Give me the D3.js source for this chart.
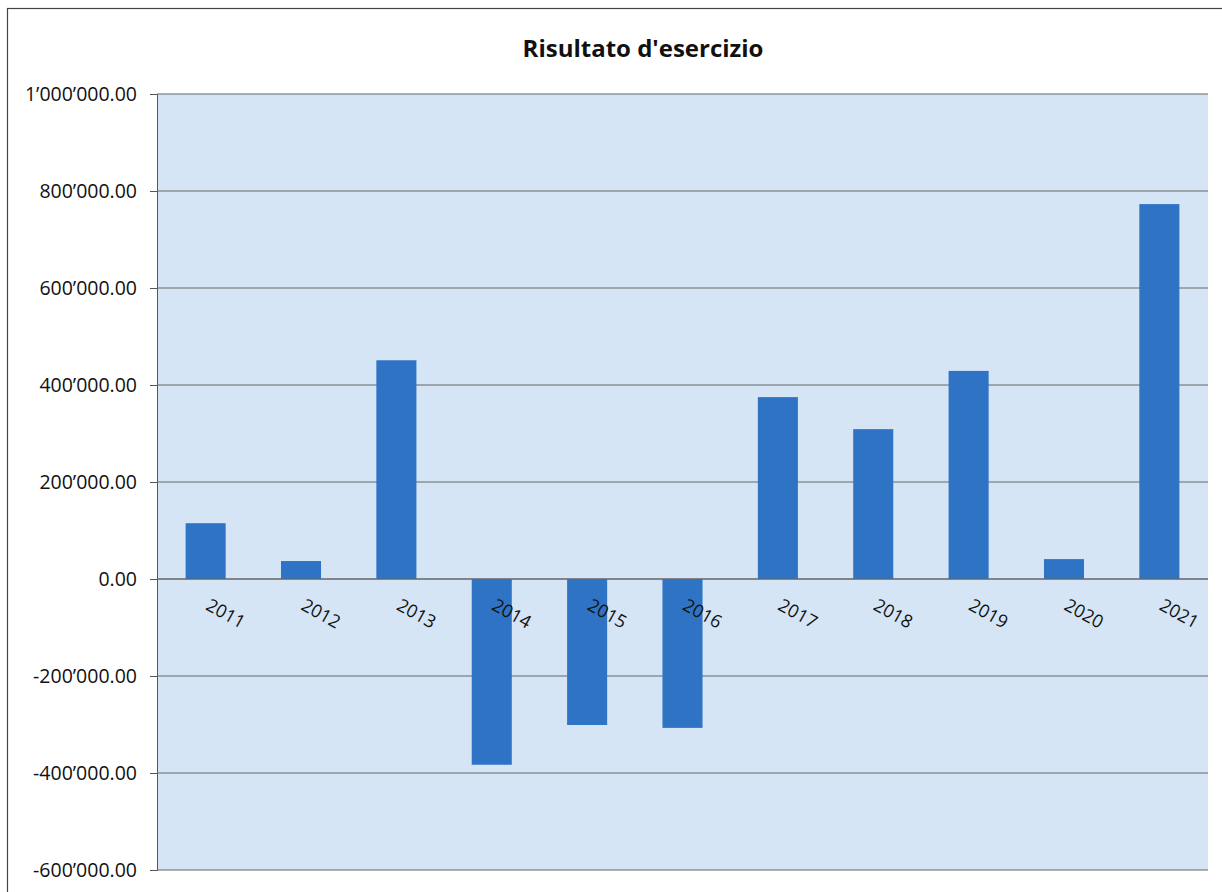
<!DOCTYPE html>
<html>
<head>
<meta charset="utf-8">
<style>
body { margin: 0; background: #fff; }
text { font-family: "Open Sans", sans-serif; fill: #111; }
</style>
<script src="https://d3js.org/d3.v7.min.js"></script>
</head>
<body>
<svg width="1222" height="892"></svg>
<script>
var years = ["2011","2012","2013","2014","2015","2016","2017","2018","2019","2020","2021"];
var results = [115000, 37000, 451000, -383000, -301000, -307000, 375000, 309000, 429000, 41000, 773000];
var yTicks = [1000000, 800000, 600000, 400000, 200000, 0, -200000, -400000, -600000];
var title = "Risultato d'esercizio";

var svg = d3.select("svg");
var plotLeft = 157, plotRight = 1208, plotTop = 94, plotBottom = 870;

// outer frame
svg.append("rect")
  .attr("x", 7.5).attr("y", 8.5).attr("width", 1230).attr("height", 900)
  .attr("fill", "none").attr("stroke", "#444").attr("stroke-width", 1.2);

svg.append("text")
  .attr("x", 643).attr("y", 57)
  .attr("text-anchor", "middle")
  .style("font-size", "24px").style("font-weight", "bold")
  .text(title);

var x = d3.scaleBand().domain(years).range([plotLeft, plotRight]).paddingInner(0.58).paddingOuter(0.3);
var y = d3.scaleLinear().domain([-600000, 1000000]).range([plotBottom, plotTop]);

svg.append("rect")
  .attr("x", plotLeft).attr("y", plotTop).attr("width", plotRight - plotLeft).attr("height", plotBottom - plotTop)
  .attr("fill", "#d5e5f6");

function fmt(v) {
  var s = d3.format(",.2f")(v);
  return s.replace(/,/g, "\u2019").replace("\u2212", "-");
}

var yAxis = d3.axisLeft(y).tickValues(yTicks).tickSize(7).tickPadding(13).tickFormat(fmt);
var gy = svg.append("g").attr("transform", "translate(" + plotLeft + ",0)").call(yAxis);
gy.select(".domain").attr("stroke", "#555");
gy.selectAll(".tick line").attr("stroke", "#555");
gy.selectAll(".tick text").style("font-size", "19.5px").attr("fill", "#111");

svg.append("g").selectAll("line").data(yTicks).join("line")
  .attr("x1", plotLeft).attr("x2", plotRight)
  .attr("y1", d => y(d)).attr("y2", d => y(d))
  .attr("stroke", "#666").attr("stroke-width", 1.2);

svg.append("g").selectAll("rect").data(years).join("rect")
  .attr("x", d => x(d))
  .attr("width", x.bandwidth())
  .attr("y", (d, i) => y(Math.max(0, results[i])))
  .attr("height", (d, i) => Math.abs(y(results[i]) - y(0)))
  .attr("fill", "#2f74c4");

svg.append("line")
  .attr("x1", plotLeft).attr("x2", plotRight).attr("y1", y(0)).attr("y2", y(0))
  .attr("stroke", "#666").attr("stroke-width", 1.2);

svg.append("g").selectAll("text").data(years).join("text")
  .attr("transform", d => "translate(" + (x(d) + x.bandwidth() / 2 - 1) + "," + (y(0) + 30) + ") rotate(29)")
  .style("font-size", "18px")
  .text(d => d);
</script>
</body>
</html>
